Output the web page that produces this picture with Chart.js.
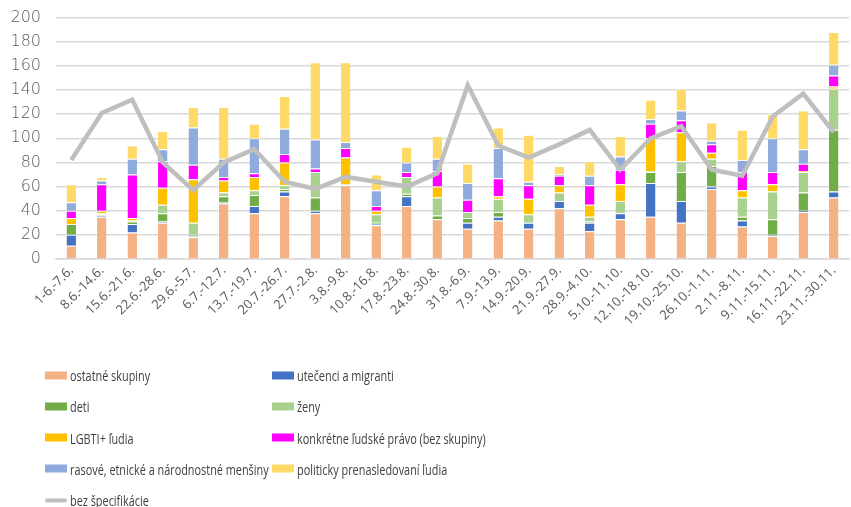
<!DOCTYPE html>
<html>
<head>
<meta charset="utf-8">
<script src="https://cdn.jsdelivr.net/npm/chart.js"></script>
<style>
  body { margin:0; background:#fff; }
  #wrap { position:relative; width:851px; height:507px; overflow:hidden; }
  #c { position:absolute; left:0; top:-7px; }
  #legend { position:absolute; left:45px; top:375px; width:800px; font-family:"Open Sans",sans-serif; font-size:14.5px; color:#404040; }
  .lg { position:absolute; display:flex; align-items:center; white-space:nowrap; transform:translateY(-50%); }
  .sw { width:22px; height:8px; margin-right:3px; flex:none; }
  .ln { width:22px; height:4px; border-radius:2px; margin-right:3px; flex:none; }
  .tx { display:inline-block; transform:scaleX(0.75); transform-origin:left center; }
</style>
</head>
<body>
<div id="wrap">
  <canvas id="c" width="851" height="507"></canvas>
  <div id="legend"></div>
</div>
<script>
// ── DATA ──────────────────────────────────────
const labels = ['1-6.-7.6.','8.6.-14.6.','15.6.-21.6.','22.6.-28.6.','29.6.-5.7.','6.7.-12.7.','13.7.-19.7.','20.7.-26.7.','27.7.-2.8.','3.8.-9.8.','10.8.-16.8.','17.8.-23.8.','24.8.-30.8.','31.8.-6.9.','7.9.-13.9.','14.9.-20.9.','21.9.-27.9.','28.9.-4.10.','5.10.-11.10.','12.10.-18.10.','19.10.-25.10.','26.10.-1.11.','2.11.-8.11.','9.11.-15.11.','16.11.-22.11.','23.11.-30.11.'];

const ostatne   = [11,35,22,30,18,46,38,52,38,61,28,44,33,25,32,25,42,23,33,35,30,58,27,19,39,51];
const utecenci  = [9,1,7,1,1,1,6,4,2,0,1,8,0,5,3,5,6,7,5,28,18,2,5,1,1,5];
const deti      = [9,1,2,7,1,5,9,2,11,1,1,2,3,4,4,0,0,1,1,9,24,17,3,13,15,51];
const zeny      = [0,1,1,7,10,3,4,3,21,0,7,14,15,5,11,7,7,4,9,1,9,6,16,23,17,34];
const lgbti     = [5,2,2,14,36,10,11,19,0,22,3,0,9,0,2,13,6,10,14,27,24,5,6,6,1,2];
const konkretne = [6,22,36,22,12,3,3,7,3,8,4,4,13,10,15,11,8,16,12,12,10,7,15,10,6,9];
const rasove    = [7,3,13,10,31,15,29,21,24,5,13,8,10,14,25,3,1,8,11,4,8,3,10,28,12,9];
const politicky = [15,3,11,15,17,43,12,27,64,66,13,13,19,16,17,39,7,12,17,16,18,15,25,20,32,27];
const bezSpec   = [82,121,132,80,57,80,91,64,58,68,64,60,71,144,94,84,95,107,74,100,110,74,69,118,137,105];

const yTicks = [0,20,40,60,80,100,120,140,160,180,200];

// ── DATASETS ──────────────────────────────────
const bar = (label, data, color) => ({
  type:'bar', label, data, backgroundColor:color, stack:'s', order:1,
  borderColor:'rgba(255,255,255,0.7)', borderWidth:{top:1,bottom:0,left:0,right:0},
  barPercentage:0.31, categoryPercentage:1
});

const datasets = [
  bar('ostatné skupiny', ostatne, '#F4B183'),
  bar('utečenci a migranti', utecenci, '#4472C4'),
  bar('deti', deti, '#70AD47'),
  bar('ženy', zeny, '#A9D18E'),
  bar('LGBTI+ ľudia', lgbti, '#FFC000'),
  bar('konkrétne ľudské právo (bez skupiny)', konkretne, '#FF00FF'),
  bar('rasové, etnické a národnostné menšiny', rasove, '#8FAADC'),
  bar('politicky prenasledovaní ľudia', politicky, '#FFD966'),
  { type:'line', label:'bez špecifikácie', data:bezSpec, stack:'line', order:0,
    borderColor:'#BFBFBF', borderWidth:4.5, pointRadius:0, tension:0, fill:false }
];

new Chart(document.getElementById('c'), {
  data: { labels, datasets },
  options: {
    responsive:false, animation:false,
    layout: { padding:{ top:13, right:2, left:0, bottom:0 } },
    plugins: { legend:{ display:false }, tooltip:{ enabled:false } },
    scales: {
      x: {
        stacked:true,
        grid:{ display:false, drawTicks:false },
        border:{ color:'#D9D9D9', width:1.5 },
        ticks:{ maxRotation:45, minRotation:45, autoSkip:false, padding:4,
                color:'#595959', font:{ family:'"Open Sans",sans-serif', size:13 } },
        afterFit: s => { s.height = 241; }
      },
      y: {
        stacked:true, min:0, max:200,
        afterBuildTicks: s => { s.ticks = yTicks.map(v => ({ value:v })); },
        grid:{ color:'#D9D9D9', lineWidth:1.5, drawTicks:false },
        border:{ display:false },
        ticks:{ padding:15, color:'#595959', font:{ family:'"DejaVu Sans",sans-serif', size:16, weight:'200' } },
        afterFit: s => { s.width = 56; }
      }
    }
  }
});

// ── LEGEND (two columns, like the original) ──
const lg = document.getElementById('legend');
datasets.forEach((d, i) => {
  const row = Math.floor(i / 2), col = i % 2;
  const el = document.createElement('div');
  el.className = 'lg';
  el.style.left = (col ? 227 : 0) + 'px';
  el.style.top = (row * 31.3) + 'px';
  const sw = document.createElement('span');
  if (d.type === 'line') { sw.className = 'ln'; sw.style.background = d.borderColor; }
  else { sw.className = 'sw'; sw.style.background = d.backgroundColor; }
  const tx = document.createElement('span');
  tx.className = 'tx';
  tx.textContent = d.label;
  el.appendChild(sw);
  el.appendChild(tx);
  lg.appendChild(el);
});
</script>
</body>
</html>
